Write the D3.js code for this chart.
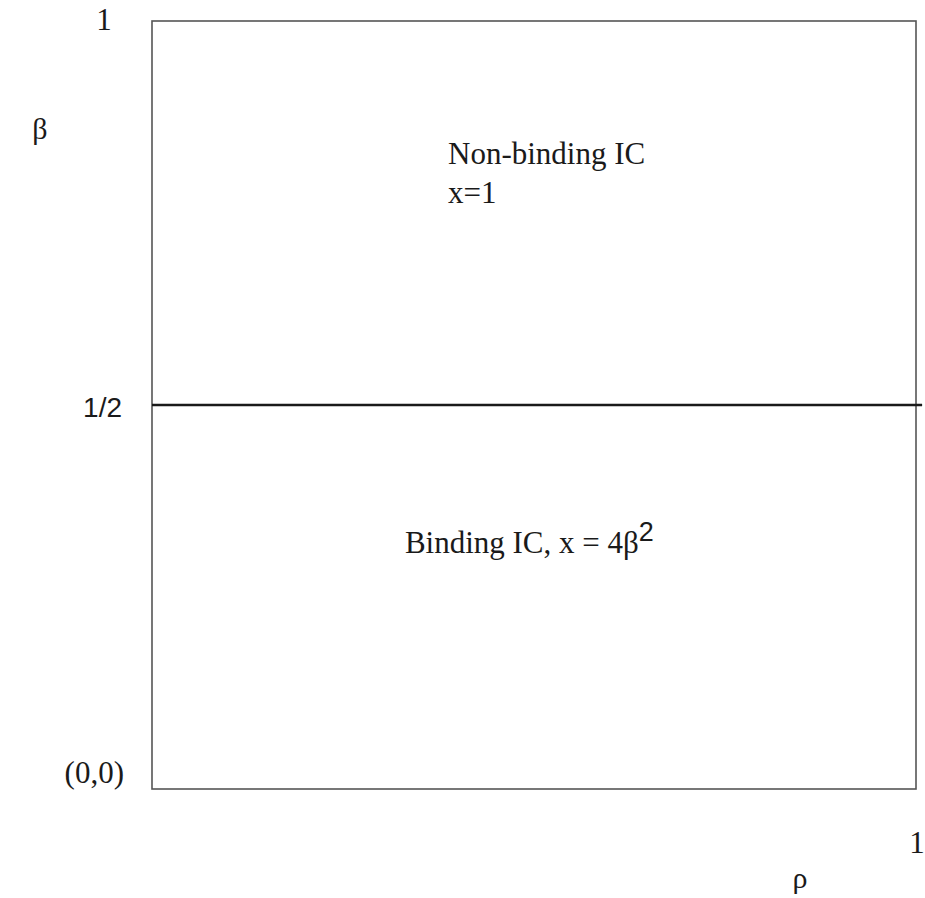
<!DOCTYPE html>
<html>
<head>
<meta charset="utf-8">
<script src="https://cdn.jsdelivr.net/npm/d3@7"></script>
<style>
  html, body { margin: 0; padding: 0; background: #fff; }
  svg { display: block; }
</style>
</head>
<body>
<svg id="chart" width="925" height="898"></svg>
<script>
// ---- data ----
const xDomain = [0, 1];              // rho
const yDomain = [0, 1];              // beta
const boundaryBeta = [0.5];          // IC boundary beta = 1/2
const boundaryRho = [0, 1.008];      // line extends slightly past the box
const yTickLabels = ["1", "1/2"];
const yTickValues = [1, 0.5];
const originLabel = "(0,0)";
const xEndLabel = "1";
const xAxisTitle = "ρ";
const yAxisTitle = "β";
const regionTop = ["Non-binding IC", "x=1"];
const regionBottom = "Binding IC, x = 4β";
const regionBottomSup = "2";

// ---- layout ----
const svg = d3.select("#chart");
const x = d3.scaleLinear().domain(xDomain).range([152, 916]);
const y = d3.scaleLinear().domain(yDomain).range([789, 21]);
const serif = "'Liberation Serif', 'Times New Roman', serif";
const sans = "'Liberation Sans', Arial, sans-serif";

// box
svg.append("rect")
  .attr("x", x(0)).attr("y", y(1))
  .attr("width", x(1) - x(0)).attr("height", y(0) - y(1))
  .attr("fill", "none").attr("stroke", "#555").attr("stroke-width", 1.6);

// boundary line
svg.selectAll("line.boundary").data(boundaryBeta).enter().append("line")
  .attr("class", "boundary")
  .attr("x1", x(boundaryRho[0])).attr("x2", x(boundaryRho[1]))
  .attr("y1", d => y(d)).attr("y2", d => y(d))
  .attr("stroke", "#1a1a1a").attr("stroke-width", 2.4);

// y tick labels
svg.selectAll("text.ytick").data(yTickValues).enter().append("text")
  .attr("class", "ytick")
  .attr("x", (d, i) => i === 0 ? 104 : 122)
  .attr("y", (d, i) => i === 0 ? y(d) + 9 : y(d) + 12)
  .attr("text-anchor", (d, i) => i === 0 ? "middle" : "end")
  .attr("font-family", (d, i) => i === 0 ? serif : sans)
  .attr("font-size", (d, i) => i === 0 ? 31 : 28)
  .attr("fill", "#1a1a1a")
  .text((d, i) => yTickLabels[i]);

// origin
svg.append("text")
  .attr("x", 124).attr("y", y(0) - 6)
  .attr("text-anchor", "end")
  .attr("font-family", serif).attr("font-size", 31).attr("fill", "#1a1a1a")
  .text(originLabel);

// x end label
svg.append("text")
  .attr("x", x(1) + 1).attr("y", y(0) + 64)
  .attr("text-anchor", "middle")
  .attr("font-family", serif).attr("font-size", 31).attr("fill", "#1a1a1a")
  .text(xEndLabel);

// axis titles
svg.append("text")
  .attr("x", 800).attr("y", 888)
  .attr("text-anchor", "middle")
  .attr("font-family", serif).attr("font-size", 30).attr("fill", "#1a1a1a")
  .text(xAxisTitle);
svg.append("text")
  .attr("x", 40).attr("y", 139)
  .attr("text-anchor", "middle")
  .attr("font-family", serif).attr("font-size", 30).attr("fill", "#1a1a1a")
  .text(yAxisTitle);

// region labels
svg.selectAll("text.top").data(regionTop).enter().append("text")
  .attr("class", "top")
  .attr("x", x(0.3875))
  .attr("y", (d, i) => 164 + i * 39)
  .attr("font-family", serif).attr("font-size", 31).attr("fill", "#1a1a1a")
  .text(d => d);

const bt = svg.append("text")
  .attr("x", x(0.331)).attr("y", 553)
  .attr("font-family", serif).attr("font-size", 31).attr("fill", "#1a1a1a");
bt.append("tspan").text(regionBottom);
bt.append("tspan").attr("dy", -12).attr("font-family", sans).attr("font-size", 27).text(regionBottomSup);
</script>
</body>
</html>
